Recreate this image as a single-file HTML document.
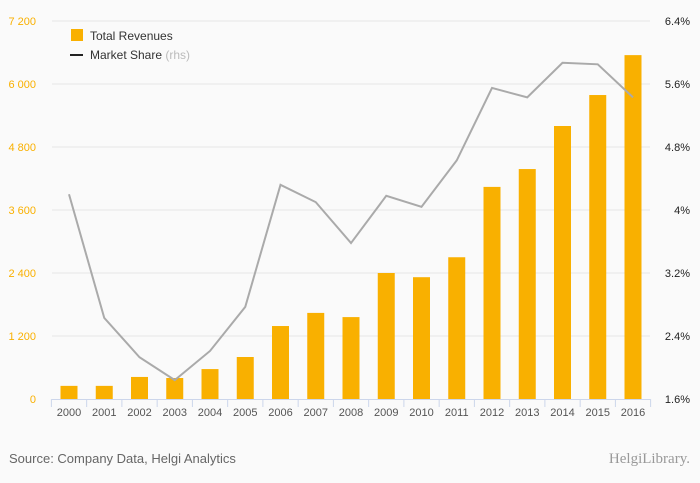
<!DOCTYPE html>
<html><head><meta charset="utf-8"><style>
body{margin:0;background:#fafafa;font-family:"Liberation Sans",sans-serif;}
svg{display:block}
</style></head><body>
<svg id="chart" width="700" height="483">
<rect width="700" height="483" fill="#fafafa"/>
<g id="grid"></g><g id="bars"></g><g id="line"></g><g id="axes"></g>
<g>
<rect x="71" y="29" width="12" height="12" fill="#f9b000"/>
<text x="90" y="40" font-size="12" fill="#333">Total Revenues</text>
<line x1="70" y1="55" x2="83" y2="55" stroke="#222" stroke-width="2"/>
<text x="90" y="59" font-size="12" fill="#333">Market Share <tspan fill="#bbb">(rhs)</tspan></text>
</g>
<text x="9" y="463" font-size="13" fill="#666">Source: Company Data, Helgi Analytics</text>
<text x="690" y="463" font-size="15" fill="#999" text-anchor="end" font-family="Liberation Serif,serif">HelgiLibrary.</text>
</svg>
<script>
const years=["2000","2001","2002","2003","2004","2005","2006","2007","2008","2009","2010","2011","2012","2013","2014","2015","2016"];
const revenues=[250,250,420,400,570,800,1390,1640,1560,2400,2320,2700,4040,4380,5200,5790,6550];
const share=[4.20,2.63,2.13,1.84,2.21,2.77,4.32,4.10,3.58,4.18,4.04,4.63,5.55,5.43,5.87,5.85,5.43];
const leftTicks=[0,1200,2400,3600,4800,6000,7200];
const leftTickLabels=["0","1 200","2 400","3 600","4 800","6 000","7 200"];
const rightTicks=[1.6,2.4,3.2,4,4.8,5.6,6.4];
const rightTickLabels=["1.6%","2.4%","3.2%","4%","4.8%","5.6%","6.4%"];
const NS="http://www.w3.org/2000/svg";
const y0=399,yTop=21;
const yL=v=>y0-(v/7200)*(y0-yTop);
const yR=v=>y0-((v-1.6)/4.8)*(y0-yTop);
const x=i=>69+i*35.25;
function mk(tag,attrs,parent){const e=document.createElementNS(NS,tag);for(const k in attrs)e.setAttribute(k,attrs[k]);document.getElementById(parent).appendChild(e);return e;}
leftTicks.forEach((t,i)=>{
 if(i>0){const g=mk('line',{x1:52,x2:650,y1:yL(t),y2:yL(t),stroke:'#e6e6e6','stroke-width':1},'grid');
 
 }
 const l=mk('text',{x:36,y:yL(t)+4,'font-size':11,fill:'#f9b000','text-anchor':'end'},'axes');l.textContent=leftTickLabels[i];
 
 
});
rightTicks.forEach((t,i)=>{
 const l=mk('text',{x:690,y:yR(t)+4,'font-size':11,fill:'#222','text-anchor':'end'},'axes');l.textContent=rightTickLabels[i];
 
 
});
const ax=mk('line',{x1:52,x2:650,y1:y0+0.5,y2:y0+0.5,stroke:'#ccd6eb'},'axes');


years.forEach((yr,i)=>{
 const tk=mk('line',{x1:x(i)-17.6,x2:x(i)-17.6,y1:y0,y2:y0+8,stroke:'#ccd6eb'},'axes');
 
 
 const b=mk('rect',{x:x(i)-8.5,y:yL(revenues[i]),width:17,height:y0-yL(revenues[i]),fill:'#f9b000'},'bars');
 
 
 const l=mk('text',{x:x(i),y:416,'font-size':11,fill:'#555','text-anchor':'middle'},'axes');l.textContent=yr;
 
 
});
const tk2=mk('line',{x1:x(16)+17.6,x2:x(16)+17.6,y1:y0,y2:y0+8,stroke:'#ccd6eb'},'axes');


const p=mk('polyline',{points:share.map((v,i)=>x(i)+','+yR(v)).join(' '),fill:'none',stroke:'#aaa','stroke-width':2},'line');


</script>
</body></html>
